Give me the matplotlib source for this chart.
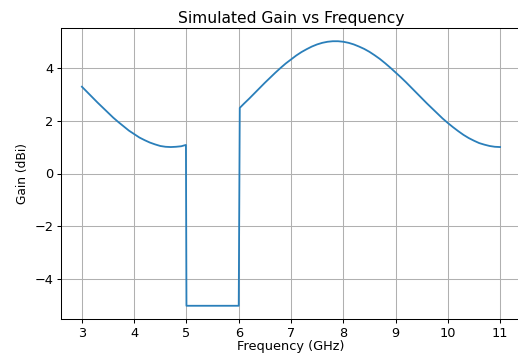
import matplotlib
matplotlib.use("Agg")
import matplotlib.pyplot as plt

# gain, three pieces: below the notch, the notch, above it
freq_low = [3.0, 3.1, 3.2, 3.3, 3.4, 3.5, 3.6, 3.7, 3.8, 3.9,
            4.0, 4.1, 4.2, 4.3, 4.4, 4.5, 4.6, 4.7, 4.8, 4.9, 4.99]
gain_low = [3.28, 3.08, 2.88, 2.68, 2.49, 2.30, 2.11, 1.94, 1.78, 1.62,
            1.49, 1.36, 1.26, 1.17, 1.10, 1.04, 1.01, 1.00, 1.01, 1.03, 1.08]

freq_notch = [5.0, 6.0]
gain_notch = [-5.0, -5.0]

freq_high = [6.02, 6.1, 6.2, 6.3, 6.4, 6.5, 6.6, 6.7, 6.8, 6.9,
             7.0, 7.1, 7.2, 7.3, 7.4, 7.5, 7.6, 7.7, 7.8, 7.9,
             8.0, 8.1, 8.2, 8.3, 8.4, 8.5, 8.6, 8.7, 8.8, 8.9,
             9.0, 9.1, 9.2, 9.3, 9.4, 9.5, 9.6, 9.7, 9.8, 9.9,
             10.0, 10.1, 10.2, 10.3, 10.4, 10.5, 10.6, 10.7, 10.8, 10.9, 11.0]
gain_high = [2.48, 2.64, 2.83, 3.03, 3.23, 3.43, 3.62, 3.81, 3.99, 4.16,
             4.31, 4.46, 4.59, 4.70, 4.80, 4.88, 4.94, 4.98, 5.00, 5.00,
             4.98, 4.94, 4.88, 4.80, 4.71, 4.60, 4.47, 4.33, 4.17, 4.00,
             3.82, 3.64, 3.45, 3.25, 3.05, 2.85, 2.65, 2.46, 2.27, 2.08,
             1.91, 1.75, 1.60, 1.46, 1.34, 1.24, 1.15, 1.09, 1.04, 1.01, 1.00]

freq = freq_low + freq_notch + freq_high
gain = gain_low + gain_notch + gain_high

dpi = 93
fig = plt.figure(figsize=(518 / dpi, 354 / dpi), dpi=dpi)
# axes run a little past the right edge, like the cropped original
ax = fig.add_axes([61 / 518, 35 / 354, 460 / 518, 291 / 354])

ax.plot(freq, gain, color="#2a7fba", linewidth=1.4)
ax.set_title("Simulated Gain vs Frequency", fontsize=12, pad=4)
ax.set_xlabel("Frequency (GHz)", fontsize=10, labelpad=0)
ax.set_ylabel("Gain (dBi)", fontsize=9.5)
ax.set_xticks(range(3, 12))
ax.tick_params(length=3, pad=3, labelsize=10)
ax.grid(True)

fig.savefig("out.png", dpi=dpi)
